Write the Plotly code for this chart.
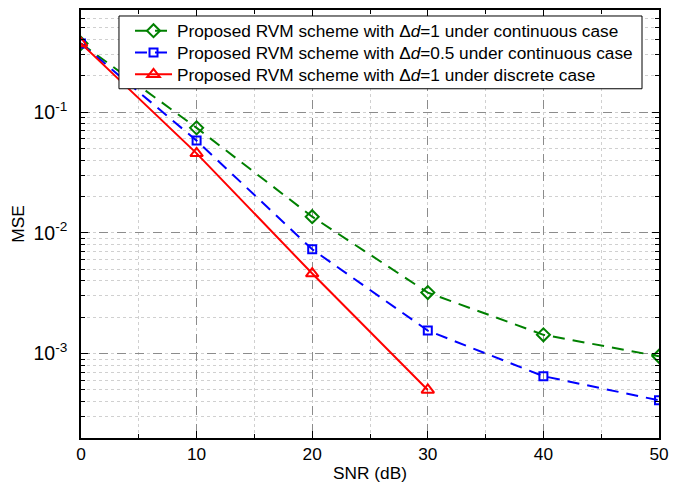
import plotly.graph_objects as go

snr = [0, 10, 20, 30, 40, 50]
snr_discrete = [0, 10, 20, 30]
mse_cont_d1 = [0.37, 0.074, 0.0136, 0.0032, 0.00143, 0.00095]
mse_cont_d05 = [0.37, 0.058, 0.0073, 0.00155, 0.00065, 0.00041]
mse_disc_d1 = [0.37, 0.0455, 0.0046, 0.0005]

names = [
    "Proposed RVM scheme with Δ<i>d</i>=1 under continuous case",
    "Proposed RVM scheme with Δ<i>d</i>=0.5 under continuous case",
    "Proposed RVM scheme with Δ<i>d</i>=1 under discrete case",
]
ytick_vals = [1e-3, 1e-2, 1e-1]
ytick_text = ["10<sup>-3</sup>", "10<sup>-2</sup>", "10<sup>-1</sup>"]

FONT = "Arial, Liberation Sans, sans-serif"
FS = 17.25

fig = go.Figure()
fig.add_trace(go.Scatter(
    x=snr, y=mse_cont_d1, name=names[0], mode="lines+markers", legend="legend",
    line=dict(color="#008000", width=2, dash="12px,8px"),
    marker=dict(symbol="diamond-open", size=10, color="#008000", line=dict(width=2)),
))
fig.add_trace(go.Scatter(
    x=snr, y=mse_cont_d05, name=names[1], mode="lines+markers", legend="legend2",
    line=dict(color="#0000FF", width=2, dash="12px,8px"),
    marker=dict(symbol="square-open", size=8, color="#0000FF", line=dict(width=2)),
))
fig.add_trace(go.Scatter(
    x=snr_discrete, y=mse_disc_d1, name=names[2], mode="lines+markers", legend="legend3",
    line=dict(color="#FF0000", width=2),
    marker=dict(symbol="triangle-up-open", size=11, color="#FF0000", line=dict(width=2)),
))

def leg(yc):
    return dict(
        x=0.0848, y=yc, xanchor="left", yanchor="middle",
        bgcolor="rgba(0,0,0,0)", borderwidth=0, itemwidth=37,
        font=dict(family=FONT, size=FS, color="black"),
    )

fig.add_shape(type="rect", xref="paper", yref="paper",
              x0=0.0657, x1=0.9706, y0=0.816, y1=0.986,
              fillcolor="white", line=dict(color="black", width=1), layer="above")

fig.update_layout(
    width=681, height=502,
    margin=dict(l=73, r=30, t=0, b=72),
    paper_bgcolor="white", plot_bgcolor="white",
    font=dict(family=FONT, size=FS, color="black"),
    showlegend=True,
    legend=leg(0.951), legend2=leg(0.900), legend3=leg(0.849),
    xaxis=dict(
        range=[0, 50], tickvals=[0, 10, 20, 30, 40, 50],
        ticks="inside", ticklen=7, tickwidth=1, tickcolor="black",
        showline=True, linecolor="black", linewidth=1.5, mirror="allticks",
        showgrid=True, gridcolor="#8c8c8c", griddash="dash", gridwidth=1,
        zeroline=False,
        minor=dict(dtick=5, ticks="inside", ticklen=4, tickcolor="black",
                   showgrid=True, gridcolor="#d0d0d0", griddash="dot", gridwidth=1),
        title=dict(text="SNR (dB)", font=dict(size=FS), standoff=3),
        tickfont=dict(size=FS),
    ),
    yaxis=dict(
        type="log", range=[-3.699, -0.155],
        tickvals=ytick_vals, ticktext=ytick_text,
        ticks="inside", ticklen=7, tickwidth=1, tickcolor="black",
        showline=True, linecolor="black", linewidth=1.5, mirror="allticks",
        showgrid=True, gridcolor="#8c8c8c", griddash="dash", gridwidth=1,
        zeroline=False,
        minor=dict(dtick="D1", ticks="inside", ticklen=4, tickcolor="black",
                   showgrid=True, gridcolor="#d0d0d0", griddash="dot", gridwidth=1),
        title=dict(text="MSE", font=dict(size=FS), standoff=4),
        tickfont=dict(size=19.5),
        ticklabelstandoff=8,
    ),
)

fig.write_html("out.html")
